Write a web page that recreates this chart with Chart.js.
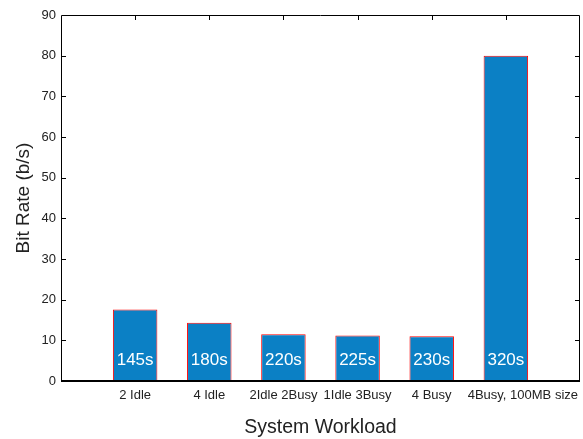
<!DOCTYPE html>
<html>
<head>
<meta charset="utf-8">
<title>Bit Rate by System Workload</title>
<script src="https://cdn.jsdelivr.net/npm/chart.js@4/dist/chart.umd.min.js"></script>
<style>
  html, body { margin: 0; padding: 0; background: #fff; }
  canvas { display: block; }
</style>
</head>
<body>
<canvas id="chart" width="583" height="439"></canvas>
<script>
// Workload scenarios (empty slots pad the axis on both ends)
const categories = ['2 Idle', '4 Idle', '2Idle 2Busy', '1Idle 3Busy', '4 Busy', '4Busy, 100MB size'];
// Measured bit rate per scenario, b/s
const bitRates = [17.6, 14.3, 11.5, 11.2, 11.0, 80.0];
// Total run time printed inside each bar
const runTimes = ['145s', '180s', '220s', '225s', '230s', '320s'];
// Y axis range and step
const yTicks = { min: 0, max: 90, step: 10 };

const FONT = "'Liberation Sans', Arial, Helvetica, sans-serif";
const TEXT = '#222222';
const labelLevel = 5.2; // y value at which run-time labels sit

const paddedLabels = [''].concat(categories, ['']);
const paddedValues = [null].concat(bitRates, [null]);

// Draws the boxed frame with inward tick marks, the category labels
// (the last one right-aligned to the end of the axis) and the
// run-time labels inside the bars
const framePlugin = {
  id: 'frame',
  afterDatasetsDraw(chart) {
    const { ctx, chartArea: a, scales } = chart;
    const xs = scales.x, ys = scales.y;
    ctx.save();

    // run-time labels
    const meta = chart.getDatasetMeta(0);
    ctx.fillStyle = '#ffffff';
    ctx.font = '17px ' + FONT;
    ctx.textAlign = 'center';
    ctx.textBaseline = 'middle';
    const ly = ys.getPixelForValue(labelLevel);
    categories.forEach((c, i) => {
      const bar = meta.data[i + 1];
      if (bar) ctx.fillText(runTimes[i], bar.x, ly);
    });

    // category labels
    ctx.fillStyle = TEXT;
    ctx.font = '13px ' + FONT;
    categories.forEach((c, i) => {
      if (i === categories.length - 1) {
        ctx.textAlign = 'right';
        ctx.fillText(c, a.right - 2, a.bottom + 14);
      } else {
        ctx.textAlign = 'center';
        ctx.fillText(c, xs.getPixelForValue(i + 1), a.bottom + 14);
      }
    });

    // frame
    ctx.strokeStyle = '#000';
    ctx.lineWidth = 1;
    ctx.beginPath();
    ctx.moveTo(a.left + 0.5, a.bottom);
    ctx.lineTo(a.left + 0.5, a.top + 0.5);
    ctx.lineTo(a.right - 0.5, a.top + 0.5);
    ctx.lineTo(a.right - 0.5, a.bottom);
    ctx.stroke();
    ctx.lineWidth = 2;
    ctx.beginPath();
    ctx.moveTo(a.left, a.bottom);
    ctx.lineTo(a.right, a.bottom);
    ctx.stroke();

    // inward ticks on left and right
    ctx.lineWidth = 1;
    ctx.beginPath();
    ys.ticks.forEach(t => {
      const y = Math.round(ys.getPixelForValue(t.value)) + 0.5;
      if (t.value <= yTicks.min || t.value >= yTicks.max) return;
      ctx.moveTo(a.left, y); ctx.lineTo(a.left + 5, y);
      ctx.moveTo(a.right, y); ctx.lineTo(a.right - 5, y);
    });
    // inward ticks on top at each category
    categories.forEach((c, i) => {
      const x = Math.round(xs.getPixelForValue(i + 1)) + 0.5;
      ctx.moveTo(x, a.top); ctx.lineTo(x, a.top + 5);
    });
    ctx.stroke();
    ctx.restore();
  }
};

new Chart(document.getElementById('chart'), {
  type: 'bar',
  data: {
    labels: paddedLabels,
    datasets: [{
      data: paddedValues,
      backgroundColor: '#0b80c5',
      borderColor: '#ff0000',
      borderWidth: 1,
      borderSkipped: 'bottom',
      barPercentage: 0.6,
      categoryPercentage: 1
    }]
  },
  options: {
    responsive: false,
    animation: false,
    devicePixelRatio: 1,
    layout: { padding: { top: 15, right: 3, left: 0, bottom: 0 } },
    plugins: {
      legend: { display: false },
      tooltip: { enabled: false }
    },
    scales: {
      x: {
        type: 'category',
        offset: false,
        grid: { display: false, drawTicks: false },
        border: { display: false },
        ticks: {
          autoSkip: false,
          maxRotation: 0,
          padding: 7,
          color: 'rgba(0,0,0,0)',
          font: { family: FONT, size: 13 }
        },
        title: {
          display: true,
          text: 'System Workload',
          color: TEXT,
          font: { family: FONT, size: 19.5 },
          padding: { top: 0, bottom: 0 }
        },
        afterFit(scale) {
          scale.height = 58;
          scale.paddingLeft = 0;
          scale.paddingRight = 0;
        }
      },
      y: {
        min: yTicks.min,
        max: yTicks.max,
        grid: { display: false, drawTicks: false },
        border: { display: false },
        ticks: {
          stepSize: yTicks.step,
          padding: 5,
          color: TEXT,
          font: { family: FONT, size: 13 }
        },
        title: {
          display: true,
          text: 'Bit Rate (b/s)',
          color: TEXT,
          font: { family: FONT, size: 19 },
          padding: { top: 12, bottom: 0 }
        },
        afterFit(scale) { scale.width = 61; }
      }
    }
  },
  plugins: [framePlugin]
});
</script>
</body>
</html>
